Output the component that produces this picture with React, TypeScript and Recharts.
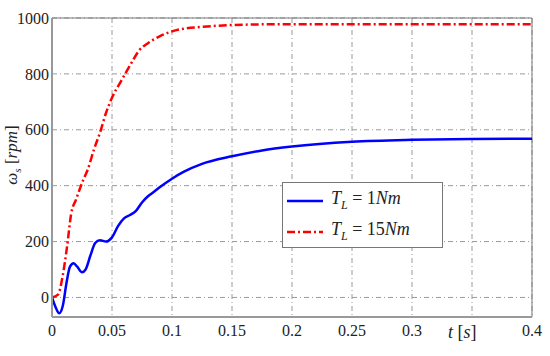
import { LineChart, Line, XAxis, YAxis, CartesianGrid, ReferenceLine } from 'recharts';

// T_L = 1 Nm
const tBlue = [0, 0.003, 0.006, 0.009, 0.012, 0.015, 0.018, 0.021, 0.025, 0.028, 0.032, 0.036, 0.04, 0.045, 0.05, 0.055, 0.06, 0.065, 0.07, 0.075, 0.08, 0.085, 0.09, 0.1, 0.11, 0.125, 0.15, 0.175, 0.2, 0.25, 0.3, 0.35, 0.4];
const wBlue = [0, -35, -57, -30, 50, 110, 122, 110, 90, 100, 150, 195, 205, 200, 215, 255, 283, 295, 310, 340, 362, 378, 395, 425, 450, 478, 505, 526, 540, 557, 564, 567, 568];

// T_L = 15 Nm
const tRed = [0, 0.005, 0.009, 0.0125, 0.016, 0.02, 0.026, 0.03, 0.035, 0.04, 0.045, 0.05, 0.057, 0.065, 0.073, 0.08, 0.09, 0.1, 0.11, 0.125, 0.15, 0.2, 0.3, 0.4];
const wRed = [0, 10, 80, 180, 300, 350, 420, 460, 530, 590, 660, 715, 770, 830, 886, 910, 935, 952, 962, 968, 975, 978, 978, 978];

const xTicks = [0, 0.05, 0.1, 0.15, 0.2, 0.25, 0.3, 0.35, 0.4];
const xTickLabels = ['0', '0.05', '0.1', '0.15', '0.2', '0.25', '0.3', '', '0.4'];
const yTicks = [0, 200, 400, 600, 800, 1000];

const blueData = tBlue.map((t, i) => ({ t, w: wBlue[i] }));
const redData = tRed.map((t, i) => ({ t, w: wRed[i] }));

const FONT = 'Liberation Serif';
const GRID = '#9a9a9a';

function LegendBox() {
  const row = (color: string, dash: string | undefined, load: string) => (
    <div style={{ display: 'flex', alignItems: 'center', height: 31 }}>
      <svg width={40} height={10}>
        <line x1={2} y1={5} x2={38} y2={5} stroke={color} strokeWidth={2.5} strokeDasharray={dash} />
      </svg>
      <span style={{ marginLeft: 6, fontFamily: FONT, fontSize: 18, color: '#222' }}>
        <i>T</i><sub style={{ fontSize: 12 }}><i>L</i></sub> = {load}<i>Nm</i>
      </span>
    </div>
  );
  return (
    <div style={{ position: 'absolute', left: 282, top: 182, width: 161, height: 66, border: '1px solid #777', background: '#fff', padding: '2px 0 0 2px', boxSizing: 'border-box' }}>
      {row('#0000ff', undefined, '1')}
      {row('#ff0000', '8 3 2 3', '15')}
    </div>
  );
}

export default function App() {
  return (
    <div style={{ position: 'fixed', left: 0, top: 0, width: 550, height: 356, background: '#fff', fontFamily: FONT }}>
      <LineChart width={550} height={356} margin={{ top: 18, right: 18, left: 0, bottom: 0 }}>
        <CartesianGrid stroke={GRID} strokeDasharray="5 3 1 3" />
        <XAxis
          type="number"
          dataKey="t"
          domain={[0, 0.4]}
          ticks={xTicks}
          tickFormatter={(v: number) => xTickLabels[xTicks.indexOf(v)] ?? ''}
          tick={{ fontSize: 16, fill: '#222', fontFamily: FONT }}
          tickLine={false}
          tickSize={2}
          tickMargin={6}
          axisLine={{ stroke: '#999', strokeWidth: 2 }}
          height={39}
          label={{
            content: () => (
              <text x={448} y={338} fontFamily={FONT} fontSize={18} fill="#222">
                <tspan fontStyle="italic">t</tspan> [<tspan fontStyle="italic">s</tspan>]
              </text>
            ),
          }}
        />
        <YAxis
          type="number"
          domain={[-70, 1000]}
          ticks={yTicks}
          tick={{ fontSize: 16, fill: '#222', fontFamily: FONT }}
          tickLine={false}
          tickSize={2}
          tickMargin={1}
          axisLine={{ stroke: '#999', strokeWidth: 2 }}
          width={52}
          allowDataOverflow
          label={{
            content: () => (
              <text x={17} y={155} transform="rotate(-90 17 155)" textAnchor="middle" fontFamily={FONT} fontSize={17} fill="#222">
                <tspan fontStyle="italic">ω</tspan>
                <tspan fontSize={11} fontStyle="italic" dy={4}>s</tspan>
                <tspan dy={-4}> [</tspan>
                <tspan fontStyle="italic">rpm</tspan>
                <tspan>]</tspan>
              </text>
            ),
          }}
        />
        <ReferenceLine y={1000} stroke="#777" strokeWidth={1} />
        <ReferenceLine x={0.4} stroke="#777" strokeWidth={1} />
        <Line data={blueData} dataKey="w" type="monotone" stroke="#0000ff" strokeWidth={2.5} dot={false} isAnimationActive={false} />
        <Line data={redData} dataKey="w" type="monotone" stroke="#ff0000" strokeWidth={2.5} strokeDasharray="8 3 2 3" dot={false} isAnimationActive={false} />
      </LineChart>
      <LegendBox />
    </div>
  );
}
